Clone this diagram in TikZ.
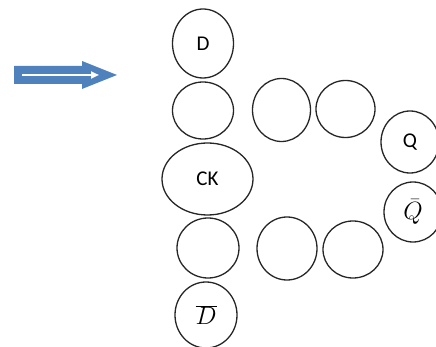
\RequirePackage{fix-cm}
\documentclass[tikz,border=0pt]{standalone}
\usepackage{fontspec}
\setmainfont{Carlito}
\usetikzlibrary{shapes.geometric,arrows.meta}
\definecolor{arrowblue}{HTML}{4F81BD}
\tikzset{
  ring/.style={ellipse,draw=black!85,line width=1.3pt,inner sep=0,font=\fontsize{21}{24}\selectfont},
  mathring/.style={ring,font=\fontsize{25}{28}\selectfont},
  blockarrow/.style={fill=arrowblue},
  stripe/.style={draw=white,line width=2pt,-{Triangle[length=8pt,width=7pt]}},
}

\begin{document}
\begin{tikzpicture}[x=1pt,y=-1pt]
  \useasboundingbox (0,0) rectangle (436,347);
  % block arrow with a white stripe inside
  \fill[blockarrow] (14,66) -- (82,66) -- (82,61) -- (117,75) -- (82,89) -- (82,84) -- (14,84) -- cycle;
  \coordinate (s0) at (22,75);
  \coordinate (s1) at (99,75);
  \draw[stripe] (s0) -- (s1);
  % left column
  \node[ring,minimum width=61pt,minimum height=69pt] (D) at (203,43.5) {D};
  \node[ring,minimum width=61pt,minimum height=57pt] (up0) at (203,110.5) {};
  \node[ring,minimum width=91pt,minimum height=72pt] (CK) at (207.5,179) {CK};
  \node[ring,minimum width=62pt,minimum height=60pt] (lo0) at (208,248) {};
  \node[mathring,minimum width=62pt,minimum height=66pt] (Dbar) at (206,315) {$\overline{D}$};
  % upper row
  \node[ring,minimum width=58pt,minimum height=63pt] (up1) at (281.5,110) {};
  \node[ring,minimum width=59pt,minimum height=57pt] (up2) at (345.5,109) {};
  % lower row
  \node[ring,minimum width=60pt,minimum height=63pt] (lo1) at (287,248.5) {};
  \node[ring,minimum width=60pt,minimum height=57pt] (lo2) at (353,249.5) {};
  % outputs
  \node[ring,minimum width=58pt,minimum height=62pt] (Q) at (410,142) {\raisebox{-5pt}{Q}};
  \node[mathring,minimum width=58pt,minimum height=60pt] (Qbar) at (413,212) {$\bar{Q}$};
\end{tikzpicture}
\end{document}
